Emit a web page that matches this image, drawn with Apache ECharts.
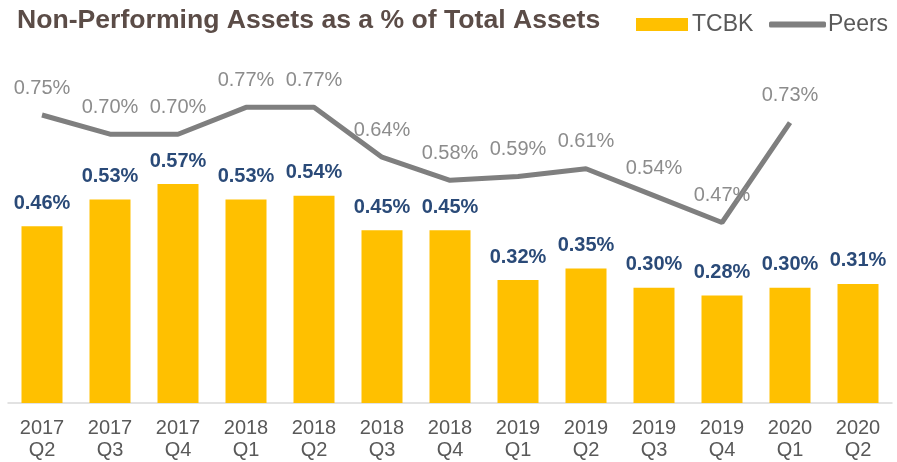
<!DOCTYPE html>
<html>
<head>
    <meta charset="utf-8">
    <script src="https://cdn.jsdelivr.net/npm/echarts@6.0.0/dist/echarts.min.js"></script>
    <style>
        body { margin: 0; background: #fff; }
        #chart { width: 897px; height: 462px; }
    </style>
</head>
<body>
<div id="chart"></div>
<script>
    const years = ['2017', '2017', '2017', '2018', '2018', '2018', '2018', '2019', '2019', '2019', '2019', '2020', '2020']
    const quarters = ['Q2', 'Q3', 'Q4', 'Q1', 'Q2', 'Q3', 'Q4', 'Q1', 'Q2', 'Q3', 'Q4', 'Q1', 'Q2']
    const tcbk = [0.46, 0.53, 0.57, 0.53, 0.54, 0.45, 0.45, 0.32, 0.35, 0.30, 0.28, 0.30, 0.31]
    const peers = [0.75, 0.70, 0.70, 0.77, 0.77, 0.64, 0.58, 0.59, 0.61, 0.54, 0.47, 0.73, null]

    const categories = years.map((y, i) => y + '\n' + quarters[i])
    const font = 'Liberation Sans, Arial, sans-serif'

    const chart = echarts.init(document.getElementById('chart'))
    const pct = p => p.value.toFixed(2) + '%'

    const option = {
        animation: false,
        title: {
            text: 'Non-Performing Assets as a % of Total Assets',
            left: 12,
            top: 2,
            textStyle: { fontFamily: font, fontSize: 26.6, fontWeight: 'bold', color: '#5b4c47' }
        },
        legend: [{
            data: [{ name: 'TCBK', icon: 'rect' }],
            left: 631,
            top: 8,
            itemWidth: 52,
            itemHeight: 13,
            itemGap: 5,
            textStyle: { fontFamily: font, fontSize: 23, color: '#595959', padding: [0, 0, 0, -1] }
        }, {
            data: [{ name: 'Peers', icon: 'roundRect' }],
            left: 764,
            top: 8,
            itemWidth: 57,
            itemHeight: 6,
            textStyle: { fontFamily: font, fontSize: 23, color: '#595959', padding: [0, 0, 0, -3] }
        }],
        grid: { left: 8, right: 5, top: 19, bottom: 59 },
        xAxis: {
            type: 'category',
            data: categories,
            axisLine: { lineStyle: { color: '#d9d9d9', width: 1.5 } },
            axisTick: { length: 5, lineStyle: { color: '#d9d9d9', width: 1.5 } },
            axisLabel: { fontFamily: font, fontSize: 20, color: '#595959', lineHeight: 22, margin: 14 }
        },
        yAxis: { type: 'value', min: 0, max: 1, show: false },
        series: [{
            name: 'TCBK',
            type: 'bar',
            data: tcbk,
            barWidth: 41,
            itemStyle: { color: '#ffc000' },
            label: {
                show: true,
                position: 'top',
                distance: 13,
                formatter: pct,
                fontFamily: font,
                fontSize: 20,
                fontWeight: 'bold',
                color: '#2a4a78'
            }
        }, {
            name: 'Peers',
            type: 'line',
            data: peers,
            symbol: 'circle',
            symbolSize: 0,
            showSymbol: true,
            itemStyle: { color: '#7f7f7f' },
            lineStyle: { color: '#7f7f7f', width: 5 },
            label: {
                show: true,
                position: 'top',
                distance: 17,
                formatter: pct,
                fontFamily: font,
                fontSize: 20,
                color: '#8c8c8c'
            }
        }]
    }
    chart.setOption(option)
</script>
</body>
</html>
